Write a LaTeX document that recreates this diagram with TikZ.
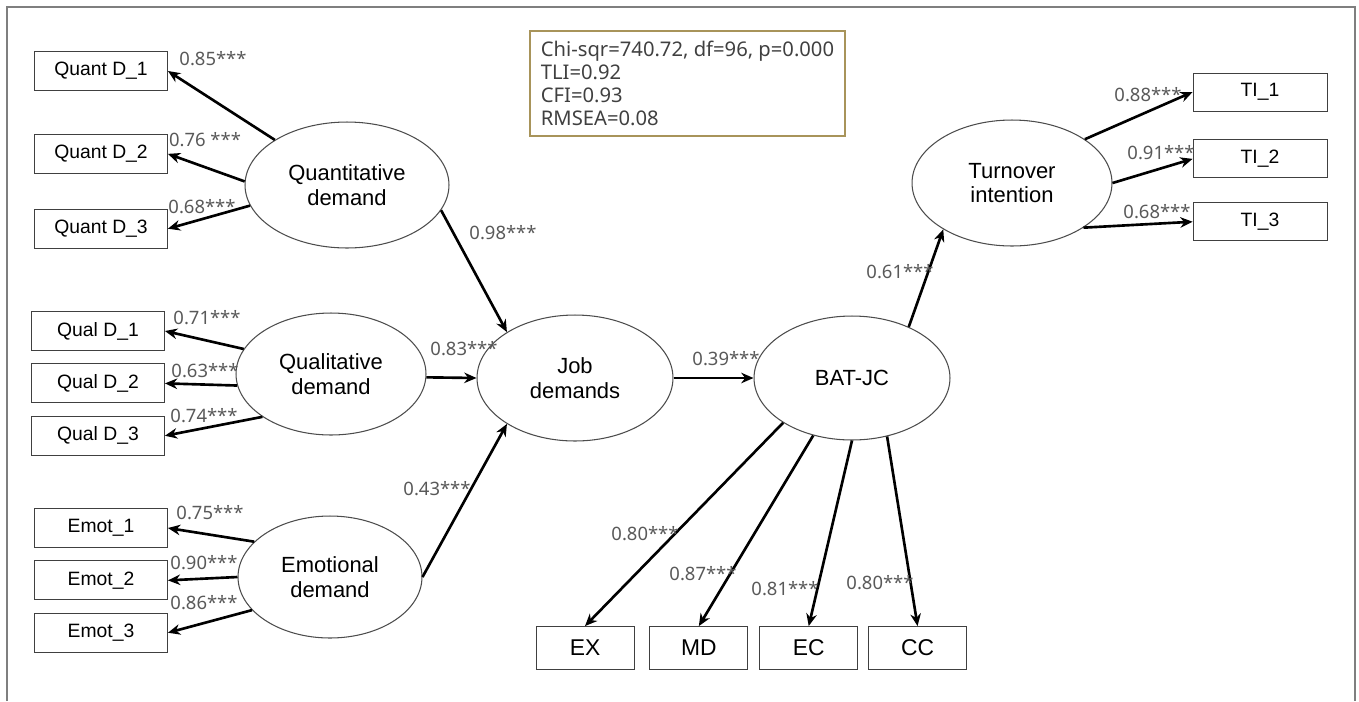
\documentclass[tikz,border=0pt]{standalone}
\usepackage{fontspec}
\setmainfont{Liberation Sans}
\newfontfamily\coeffont{Noto Sans}
\usetikzlibrary{positioning, shapes.geometric, arrows.meta}
\definecolor{framegray}{HTML}{7F7F7F}
\definecolor{coefgray}{HTML}{595959}
\definecolor{fitgold}{HTML}{A8945A}
\definecolor{fittext}{HTML}{404040}

\begin{document}
\begin{tikzpicture}[
        x=0.02cm, y=-0.02cm,
        box/.style={rectangle, draw=black!75, line width=0.5pt, minimum width=2.66cm, minimum height=0.78cm, inner sep=0pt, font=\fontsize{11}{13}\selectfont},
        latent/.style={ellipse, draw=black!70, line width=0.6pt, minimum width=3.92cm, minimum height=2.5cm, inner sep=0pt, align=center, font=\fontsize{12.5}{14}\selectfont},
        coef/.style={text=coefgray, inner sep=0pt, font=\coeffont\fontsize{10.5}{12}\selectfont},
        arrow/.style={-{Stealth[length=7pt, width=6pt]}, line width=1.5pt}
        ]
        \useasboundingbox (0,0) rectangle (1359,701);
        \draw[framegray, line width=1pt] (7,701) -- (7,7) -- (1355,7) -- (1355,701);

        % latent variables
        \node[latent, minimum width=4.08cm, minimum height=2.52cm] (quant) at (347,185) {Quantitative\\demand};
        \node[latent, minimum width=3.8cm, minimum height=2.44cm] (qual) at (331,374) {Qualitative\\demand};
        \node[latent, minimum width=3.68cm, minimum height=2.44cm] (emot) at (330,577) {Emotional\\demand};
        \node[latent, minimum height=2.52cm] (job) at (575,378) {Job\\demands};
        \node[latent, minimum height=2.48cm, right=1.6cm of job] (bat) {BAT-JC};
        \node[latent, minimum width=4cm, minimum height=2.52cm] (turn) at (1012,183) {Turnover\\intention};

        % indicators
        \node[box] (qd1) at (101,71) {Quant D\_1};
        \node[box, below=0.86cm of qd1] (qd2) {Quant D\_2};
        \node[box, below=0.7cm of qd2] (qd3) {Quant D\_3};
        \node[box] (ql1) at (98,331) {Qual D\_1};
        \node[box, below=0.25cm of ql1] (ql2) {Qual D\_2};
        \node[box, below=0.25cm of ql2] (ql3) {Qual D\_3};
        \node[box] (em1) at (101,528) {Emot\_1};
        \node[box, below=0.25cm of em1] (em2) {Emot\_2};
        \node[box, below=0.25cm of em2] (em3) {Emot\_3};
        \node[box, minimum width=2.68cm, minimum height=0.76cm] (ti1) at (1260,92) {TI\_1};
        \node[box, minimum width=2.68cm, minimum height=0.76cm, below=0.56cm of ti1] (ti2) {TI\_2};
        \node[box, minimum width=2.68cm, minimum height=0.76cm, below=0.48cm of ti2] (ti3) {TI\_3};
        \node[box, minimum width=1.96cm, minimum height=0.86cm, font=\fontsize{13}{15}\selectfont] (ex) at (585,648) {EX};
        \node[box, minimum width=1.96cm, minimum height=0.86cm, font=\fontsize{13}{15}\selectfont, right=0.3cm of ex] (md) {MD};
        \node[box, minimum width=1.96cm, minimum height=0.86cm, font=\fontsize{13}{15}\selectfont, right=0.22cm of md] (ec) {EC};
        \node[box, minimum width=1.96cm, minimum height=0.86cm, font=\fontsize{13}{15}\selectfont, right=0.2cm of ec] (cc) {CC};

        % fit indices
        \node[draw=fitgold, line width=0.8pt, minimum width=6.3cm, minimum height=2.1cm, align=left, text=fittext, font=\coeffont\fontsize{11.5}{13}\selectfont] (fit) at (687.5,83.5) {Chi-sqr=740.72, df=96, p=0.000\\TLI=0.92\\CFI=0.93\\RMSEA=0.08};

        % loadings and paths
        \draw[arrow] (quant.148) -- (qd1.east);
        \draw[arrow] (quant.178) -- (qd2.east);
        \draw[arrow] (quant.192) -- (qd3.east);
        \draw[arrow] (qual.164) -- (ql1.east);
        \draw[arrow] (qual.187) -- (ql2.east);
        \draw[arrow] (qual.212) -- (ql3.east);
        \draw[arrow] (emot.155) -- (em1.east);
        \draw[arrow] (emot.180) -- (em2.east);
        \draw[arrow] (emot.203) -- (em3.east);
        \draw[arrow] (quant.345) -- (job.146);
        \draw[arrow] (qual.358) -- (job.180);
        \draw[arrow] (emot.0) -- (job.214);
        \draw[arrow] (job.0) -- (bat.180);
        \draw[arrow] (bat.42) -- (turn.214);
        \draw[arrow] (turn.31) -- (ti1.west);
        \draw[arrow] (turn.0) -- (ti2.west);
        \draw[arrow] (turn.328) -- (ti3.west);
        \draw[arrow] (bat.213) -- (ex.north);
        \draw[arrow] (bat.236) -- (md.north);
        \draw[arrow] (bat.270) -- (ec.north);
        \draw[arrow] (bat.301) -- (cc.north);

        % coefficients
        \node[coef] (c-qd1) at (213,59) {0.85***};
        \node[coef] (c-qd2) at (205,140) {0.76 ***};
        \node[coef] (c-qd3) at (202,207) {0.68***};
        \node[coef] (c-ql1) at (207,318) {0.71***};
        \node[coef] (c-ql2) at (205,371) {0.63***};
        \node[coef] (c-ql3) at (204,416) {0.74***};
        \node[coef] (c-em1) at (210,513) {0.75***};
        \node[coef] (c-em2) at (204,563) {0.90***};
        \node[coef] (c-em3) at (204,603) {0.86***};
        \node[coef] (c-quant) at (503,233) {0.98***};
        \node[coef] (c-qual) at (464,349) {0.83***};
        \node[coef] (c-emot) at (437,489) {0.43***};
        \node[coef] (c-job) at (726,359) {0.39***};
        \node[coef] (c-bat) at (900,272) {0.61***};
        \node[coef] (c-ti1) at (1148,95) {0.88***};
        \node[coef] (c-ti2) at (1161,153) {0.91***};
        \node[coef] (c-ti3) at (1157,212) {0.68***};
        \node[coef] (c-ex) at (645,534) {0.80***};
        \node[coef] (c-md) at (703,574) {0.87***};
        \node[coef] (c-ec) at (785,589) {0.81***};
        \node[coef] (c-cc) at (880,583) {0.80***};
    \end{tikzpicture}
\end{document}
